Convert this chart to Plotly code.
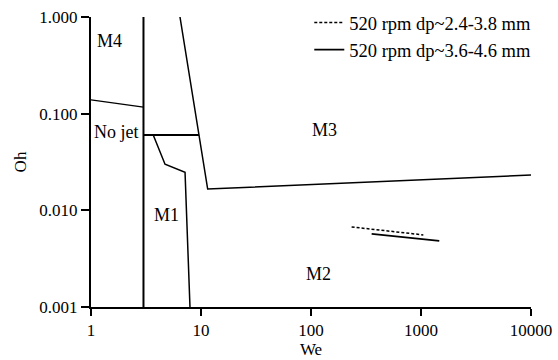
import numpy as np
import plotly.graph_objects as go

# Regime boundary lines (We, Oh)
b_v3_we = [3, 3]
b_v3_oh = [0.001, 1.0]

b_m4_we = [1, 3]
b_m4_oh = [0.139, 0.117]

b_m3_we = [6.44, 11.5, 10000]
b_m3_oh = [1.0, 0.0166, 0.0232]

b_nojet_we = [3, 9.6]
b_nojet_oh = [0.0602, 0.0602]

b_m1_we = [3.68, 4.71, 7.16, 7.94]
b_m1_oh = [0.0602, 0.030, 0.0248, 0.001]

# Experimental series
s1_name = "520 rpm dp~2.4-3.8 mm"
s1_we = [234, 1050]
s1_oh = [0.00673, 0.00557]

s2_name = "520 rpm dp~3.6-4.6 mm"
s2_we = [356, 1466]
s2_oh = [0.0057, 0.00483]

# Region labels
lab_text = ["M4", "No jet", "M3", "M1", "M2"]
lab_we = [1.46, 1.72, 133, 4.88, 118]
lab_oh = [0.565, 0.0647, 0.0678, 0.00896, 0.0022]

x_tickvals = [1, 10, 100, 1000, 10000]
x_ticktext = ["1", "10", "100", "1000", "10000"]
y_tickvals = [0.001, 0.01, 0.1, 1.0]
y_ticktext = ["0.001", "0.010", "0.100", "1.000"]

FONT = "Liberation Serif"

fig = go.Figure()

def boundary(we, oh, width=1.5):
    fig.add_trace(go.Scatter(x=we, y=oh, mode="lines", showlegend=False,
                             line=dict(color="black", width=width), hoverinfo="skip"))

boundary(b_v3_we, b_v3_oh, 2)
boundary(b_m4_we, b_m4_oh, 1.3)
boundary(b_m3_we, b_m3_oh, 1.5)
boundary(b_nojet_we, b_nojet_oh, 2)
boundary(b_m1_we, b_m1_oh, 1.5)

fig.add_trace(go.Scatter(x=s1_we, y=s1_oh, mode="lines", name=s1_name,
                         line=dict(color="black", width=1.5, dash="3px,2px")))
fig.add_trace(go.Scatter(x=s2_we, y=s2_oh, mode="lines", name=s2_name,
                         line=dict(color="black", width=1.8)))

# annotation positions on log axes are given in log10 units
for t, xw, yo in zip(lab_text, lab_we, lab_oh):
    fig.add_annotation(x=np.log10(xw), y=np.log10(yo), text=t, showarrow=False,
                       font=dict(family=FONT, size=18, color="black"),
                       xref="x", yref="y")

fig.update_layout(
    width=558, height=360,
    margin=dict(l=91, r=27, t=17, b=53, autoexpand=False),
    paper_bgcolor="white", plot_bgcolor="white",
    font=dict(family=FONT, size=17, color="black"),
    legend=dict(x=1.012, y=1.045, xanchor="right", yanchor="top",
                bgcolor="rgba(0,0,0,0)", font=dict(family=FONT, size=18.5),
                tracegroupgap=0, itemwidth=30),
    xaxis=dict(type="log", range=[0, 4], tickvals=x_tickvals, ticktext=x_ticktext,
               showgrid=False, zeroline=False, showline=True, linecolor="black",
               linewidth=2, ticks="outside", ticklen=7, tickwidth=2, tickcolor="black",
               automargin=False,
               title=dict(text="We", font=dict(family=FONT, size=17), standoff=4),
               tickfont=dict(family=FONT, size=17)),
    yaxis=dict(type="log", range=[-3, 0], tickvals=y_tickvals, ticktext=y_ticktext,
               showgrid=False, zeroline=False, showline=True, linecolor="black",
               linewidth=2, ticks="outside", ticklen=8, tickwidth=2, tickcolor="black",
               automargin=False,
               title=dict(text="Oh", font=dict(family=FONT, size=17), standoff=8),
               tickfont=dict(family=FONT, size=17)),
)

fig.write_html("out.html",
               config={"displayModeBar": False},
               post_script="document.body.style.margin='0';document.body.style.overflow='hidden';")
